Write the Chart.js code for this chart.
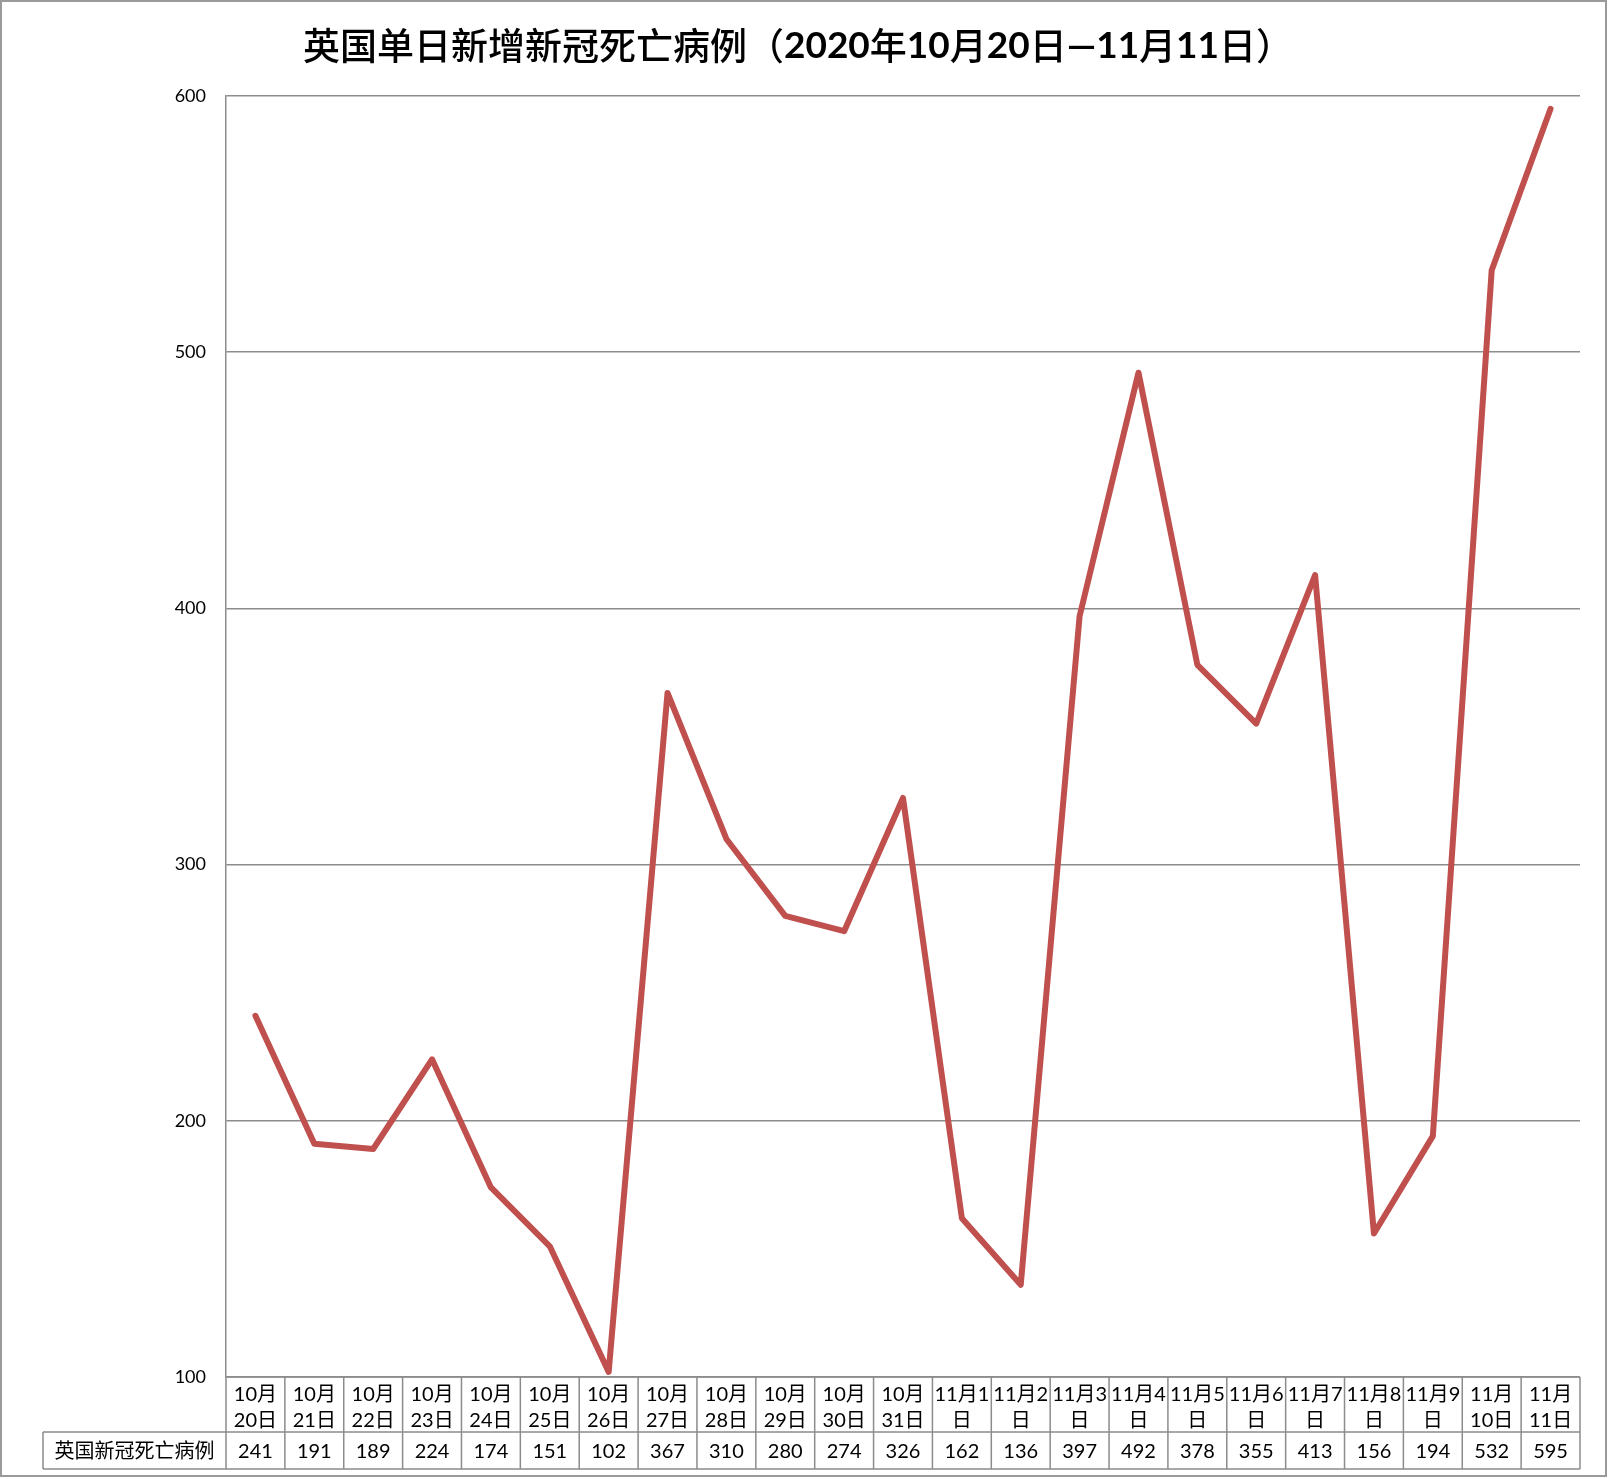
<!DOCTYPE html>
<html>
<head>
<meta charset="utf-8">
<script src="https://cdn.jsdelivr.net/npm/chart.js@4/dist/chart.umd.min.js"></script>
<style>
html,body{margin:0;padding:0;background:#ffffff;}
canvas{display:block;}
</style>
</head>
<body>
<canvas id="c" width="1609" height="1479" style="width:1609px;height:1479px"></canvas>
<script>
// ---- data ----
const titleParts = [
  ["英国单日新增新冠死亡病例（", false],
  ["2020", true], ["年", false], ["10", true], ["月", false], ["20", true],
  ["日", false], ["—", true], ["11", true], ["月", false], ["11", true], ["日）", false]
];
const categories = [
  ["10月","20日"],["10月","21日"],["10月","22日"],["10月","23日"],["10月","24日"],
  ["10月","25日"],["10月","26日"],["10月","27日"],["10月","28日"],["10月","29日"],
  ["10月","30日"],["10月","31日"],["11月1","日"],["11月2","日"],["11月3","日"],
  ["11月4","日"],["11月5","日"],["11月6","日"],["11月7","日"],["11月8","日"],
  ["11月9","日"],["11月","10日"],["11月","11日"]
];
const seriesName = "英国新冠死亡病例";
const deaths = [241,191,189,224,174,151,102,367,310,280,274,326,162,136,397,492,378,355,413,156,194,532,595];
const yTicks = [100,200,300,400,500,600];

// ---- styling ----
const FONT = "Lato, 'Noto Sans CJK SC', sans-serif";
const CJK = "'Noto Sans CJK SC', Lato, sans-serif";
const GRID = '#8c8c8c';
const LINE = '#C0504D';

const titlePlugin = {
  id: 'titleDraw',
  afterDraw(chart) {
    const ctx = chart.ctx;
    ctx.save();
    ctx.fillStyle = '#000';
    ctx.textBaseline = 'middle';
    const size = 37;
    const fontFor = b => (b ? 'bold ' : '500 ') + size + 'px ' + (b ? FONT : CJK);
    let total = 0;
    titleParts.forEach(([t, b]) => { ctx.font = fontFor(b); total += ctx.measureText(t).width; });
    let x = 798 - total / 2;
    ctx.textAlign = 'left';
    titleParts.forEach(([t, b]) => {
      ctx.font = fontFor(b);
      ctx.fillText(t, x, 46);
      x += ctx.measureText(t).width;
    });
    ctx.restore();
  }
};

const tablePlugin = {
  id: 'dataTable',
  afterDraw(chart) {
    const ctx = chart.ctx;
    const ca = chart.chartArea;
    const xs = chart.scales.x;
    const n = categories.length;
    const w = (ca.right - ca.left) / n;
    const y0 = ca.bottom, y1 = ca.bottom + 55, y2 = ca.bottom + 92;
    const labelLeft = 43;
    ctx.save();
    ctx.strokeStyle = GRID;
    ctx.lineWidth = 1.5;
    ctx.beginPath();
    ctx.moveTo(ca.left, y0); ctx.lineTo(ca.right, y0);
    ctx.moveTo(labelLeft, y1); ctx.lineTo(ca.right, y1);
    ctx.moveTo(labelLeft, y2); ctx.lineTo(ca.right, y2);
    for (let i = 0; i <= n; i++) {
      const x = ca.left + i * w;
      ctx.moveTo(x, y0); ctx.lineTo(x, y2);
    }
    ctx.moveTo(labelLeft, y1); ctx.lineTo(labelLeft, y2);
    ctx.stroke();

    ctx.fillStyle = '#000';
    ctx.textAlign = 'center';
    ctx.textBaseline = 'middle';
    ctx.font = '20px ' + FONT;
    deaths.forEach((v, i) => {
      ctx.fillText(String(v), xs.getPixelForValue(i), (y1 + y2) / 2 + 1);
    });
    ctx.font = '20px ' + CJK;
    ctx.fillText(seriesName, (labelLeft + ca.left) / 2, (y1 + y2) / 2);

    ctx.strokeStyle = '#9a9a9a';
    ctx.lineWidth = 2;
    ctx.strokeRect(1, 1, 1605, 1475);
    ctx.restore();
  }
};

const chart = new Chart(document.getElementById('c'), {
  type: 'line',
  data: {
    labels: categories,
    datasets: [{
      label: seriesName,
      data: deaths,
      borderColor: LINE,
      backgroundColor: LINE,
      borderWidth: 6,
      pointRadius: 0,
      pointHoverRadius: 0,
      tension: 0,
      borderCapStyle: 'round',
      borderJoinStyle: 'round',
      fill: false
    }]
  },
  options: {
    responsive: false,
    animation: false,
    devicePixelRatio: 1,
    layout: { padding: { top: 96, left: 0, right: 29, bottom: 0 } },
    plugins: {
      legend: { display: false },
      title: { display: false },
      tooltip: { enabled: false }
    },
    scales: {
      x: {
        type: 'category',
        offset: true,
        grid: { display: false, drawTicks: false },
        border: { display: false },
        ticks: {
          autoSkip: false,
          maxRotation: 0,
          minRotation: 0,
          padding: 5,
          color: '#000',
          font: { family: FONT, size: 20, lineHeight: 1.3 }
        },
        afterFit(s) { s.height = 102; }
      },
      y: {
        min: 100,
        max: 600,
        afterBuildTicks(s) { s.ticks = yTicks.map(v => ({ value: v })); },
        grid: { color: GRID, lineWidth: 1.5, drawTicks: false },
        border: { display: true, color: GRID, width: 1.5 },
        ticks: {
          padding: 20,
          color: '#000',
          font: { family: FONT, size: 18 }
        },
        afterFit(s) { s.width = 226; }
      }
    }
  },
  plugins: [titlePlugin, tablePlugin]
});
</script>
</body>
</html>
